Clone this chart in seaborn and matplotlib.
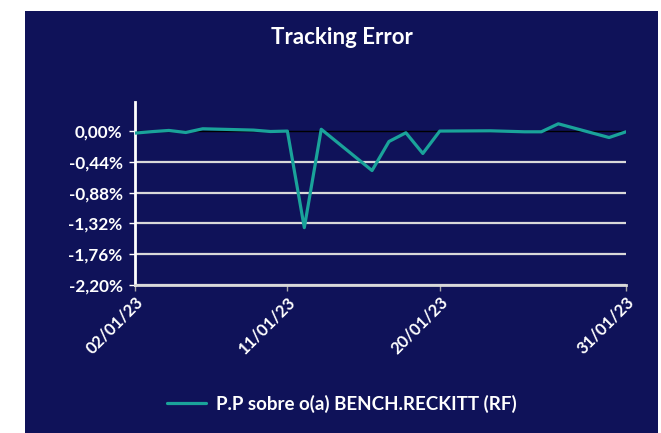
import matplotlib
matplotlib.use("Agg")
import matplotlib.pyplot as plt
import matplotlib.dates as mdates
from matplotlib.patches import Rectangle
import seaborn as sns
import pandas as pd

# ---- data ----
dates = ["2023-01-02", "2023-01-03", "2023-01-04", "2023-01-05", "2023-01-06",
         "2023-01-09", "2023-01-10", "2023-01-11", "2023-01-12", "2023-01-13",
         "2023-01-16", "2023-01-17", "2023-01-18", "2023-01-19", "2023-01-20",
         "2023-01-23", "2023-01-24", "2023-01-25", "2023-01-26", "2023-01-27",
         "2023-01-30", "2023-01-31"]
values = [-0.029, -0.008, 0.009, -0.020, 0.033,
          0.014, -0.006, 0.000, -1.380, 0.026,
          -0.564, -0.149, -0.024, -0.320, 0.000,
          0.004, -0.003, -0.010, -0.010, 0.104,
          -0.092, -0.010]
series_name = "P.P sobre o(a) BENCH.RECKITT (RF)"
title = "Tracking Error"
y_ticks = [0.0, -0.44, -0.88, -1.32, -1.76, -2.20]
x_tick_dates = ["2023-01-02", "2023-01-11", "2023-01-20", "2023-01-31"]

df = pd.DataFrame({"date": pd.to_datetime(dates), "value": values, "serie": series_name})

NAVY = "#0F1259"
TEAL = "#1AA39A"
FONT = ["Lato", "DejaVu Sans"]

sns.set_theme(style="white")
plt.rcParams["font.family"] = FONT
plt.rcParams["font.weight"] = "bold"

fig = plt.figure(figsize=(6.61, 4.33), dpi=100)
fig.patch.set_facecolor("white")
fig.patches.append(Rectangle((25 / 661, 0), (658 - 25) / 661, (433 - 11) / 433,
                             transform=fig.transFigure, facecolor=NAVY,
                             edgecolor="none", zorder=-10))

ax = fig.add_axes([135 / 661, (433 - 285) / 433, (626 - 135) / 661, (285 - 101.7) / 433])
ax.set_facecolor("none")

# grid lines
for yv in y_ticks[1:]:
    ax.axhline(yv, color="#D9D9D9", lw=1.6, zorder=1)
ax.axhline(0, color="black", lw=1.0, zorder=1)

sns.lineplot(data=df, x="date", y="value", hue="serie", palette=[TEAL],
             lw=2.3, ax=ax, zorder=3, legend=True)

ax.set_xlim(pd.Timestamp("2023-01-02"), pd.Timestamp("2023-01-31"))
ax.set_ylim(-2.20, 0.42)
ax.set_yticks(y_ticks)
ax.set_yticklabels([f"{v:.2f}%".replace(".", ",") for v in y_ticks])
ax.set_xticks(pd.to_datetime(x_tick_dates))
ax.xaxis.set_major_formatter(mdates.DateFormatter("%d/%m/%y"))

for s in ["top", "right"]:
    ax.spines[s].set_visible(False)
ax.spines["left"].set_color("white")
ax.spines["left"].set_linewidth(2.0)
ax.spines["bottom"].set_color("#D9D9D9")
ax.spines["bottom"].set_linewidth(2.0)

ax.tick_params(axis="y", colors="white", length=4, width=1, direction="out",
               labelsize=12.3, pad=5)
ax.tick_params(axis="x", colors="#A6A6A6", length=4, width=1, direction="out",
               labelsize=12, pad=2, labelcolor="white")
ax.yaxis.set_ticks_position("left")
ax.xaxis.set_ticks_position("bottom")
for lab in ax.get_yticklabels():
    lab.set_fontweight("bold")
for lab in ax.get_xticklabels():
    lab.set_rotation(45)
    lab.set_ha("right")
    lab.set_rotation_mode("anchor")
    lab.set_fontweight("bold")
ax.set_xlabel("")
ax.set_ylabel("")

fig.text(342 / 661, 1 - 38 / 433, title, color="white", fontsize=16,
         fontweight="bold", ha="center", va="center")

leg = ax.legend(loc="center", bbox_to_anchor=(342 / 661, 1 - 404 / 433),
                bbox_transform=fig.transFigure, frameon=False, fontsize=13.5,
                handlelength=2.1, handletextpad=0.55, labelcolor="white")
for t in leg.get_texts():
    t.set_fontweight("bold")

fig.savefig("out.png", dpi=100)
